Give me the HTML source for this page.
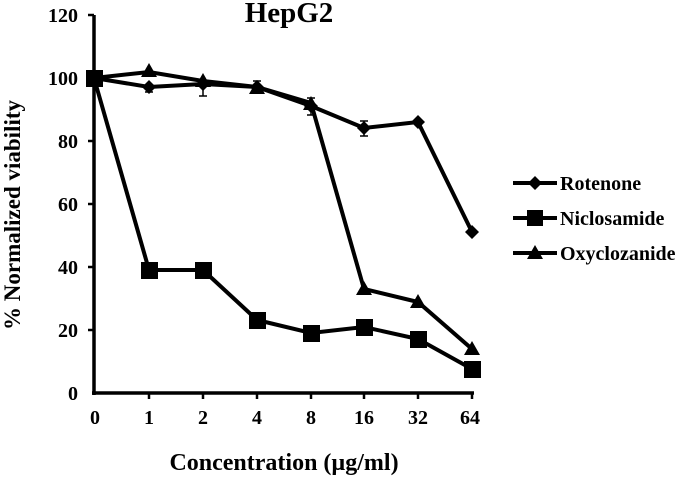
<!DOCTYPE html><html><head><style>body{margin:0;background:#fff}svg{display:block}text{font-family:"Liberation Serif",serif;font-weight:bold;fill:#000}</style></head><body>
<svg width="680" height="477" viewBox="0 0 680 477">
<g stroke="#000" stroke-width="3.5" fill="none">
<line x1="94" y1="15" x2="94" y2="395"/><line x1="92" y1="393" x2="474" y2="393"/>
<g stroke-width="2.5">
<line x1="88" y1="15" x2="94" y2="15"/><line x1="88" y1="78" x2="94" y2="78"/><line x1="88" y1="141" x2="94" y2="141"/><line x1="88" y1="204" x2="94" y2="204"/><line x1="88" y1="267" x2="94" y2="267"/><line x1="88" y1="330" x2="94" y2="330"/>
<line x1="149" y1="393" x2="149" y2="399"/><line x1="203" y1="393" x2="203" y2="399"/><line x1="257" y1="393" x2="257" y2="399"/><line x1="311" y1="393" x2="311" y2="399"/><line x1="364" y1="393" x2="364" y2="399"/><line x1="418" y1="393" x2="418" y2="399"/><line x1="472" y1="393" x2="472" y2="399"/>
</g>
<g stroke-width="1.5"><line x1="149" y1="83" x2="149" y2="92"/><line x1="203" y1="82" x2="203" y2="96"/><line x1="257" y1="81" x2="257" y2="90"/><line x1="311" y1="98" x2="311" y2="115"/><line x1="364" y1="121" x2="364" y2="136"/>
<line x1="145" y1="92" x2="153" y2="92"/><line x1="199" y1="82" x2="207" y2="82"/><line x1="199" y1="96" x2="207" y2="96"/><line x1="253" y1="81" x2="261" y2="81"/><line x1="307" y1="98" x2="315" y2="98"/><line x1="307" y1="115" x2="315" y2="115"/><line x1="360" y1="121" x2="368" y2="121"/><line x1="360" y1="136" x2="368" y2="136"/></g>
<polyline stroke-width="4" points="94,78 149,87 203,84 257,87 311,106 364,128 418,122 472,232"/>
<polyline stroke-width="4" points="94,78 149,270 203,270 257,320 311,333 364,327 418,339 472,369"/>
<polyline stroke-width="4" points="94,78 149,72 203,81 257,87 311,103 364,289 418,302 472,349"/>
<line x1="513" y1="183" x2="557" y2="183" stroke-width="4"/><line x1="513" y1="218" x2="557" y2="218" stroke-width="4"/><line x1="513" y1="253" x2="557" y2="253" stroke-width="4"/>
</g>
<g fill="#000">
<path d="M149,80l7,7-7,7-7-7z M203,77l7,7-7,7-7-7z M257,80l7,7-7,7-7-7z M311,99l7,7-7,7-7-7z M364,121l7,7-7,7-7-7z M418,115l7,7-7,7-7-7z M472,225l7,7-7,7-7-7z M535,176l7,7-7,7-7-7z"/>
<path d="M86,70h17v17h-17z M141,262h17v17h-17z M195,262h17v17h-17z M249,312h17v17h-17z M303,325h17v17h-17z M356,319h17v17h-17z M410,331h17v17h-17z M464,361h17v17h-17z M527,210h16v16h-16z"/>
<path d="M149,63l8,14h-16z M203,73l8,14h-16z M257,80l8,14h-16z M311,96l8,14h-16z M364,281l8,14h-16z M418,294l8,14h-16z M472,341l8,14h-16z M535,245l8,14h-16z"/>
</g>
<text x="289" y="22" font-size="29" text-anchor="middle">HepG2</text>
<g font-size="20" text-anchor="end"><text x="78" y="22">120</text><text x="78" y="85">100</text><text x="78" y="148">80</text><text x="78" y="211">60</text><text x="78" y="274">40</text><text x="78" y="337">20</text><text x="78" y="400">0</text></g>
<g font-size="20" text-anchor="middle"><text x="95" y="424">0</text><text x="149" y="424">1</text><text x="203" y="424">2</text><text x="257" y="424">4</text><text x="311" y="424">8</text><text x="364" y="424">16</text><text x="418" y="424">32</text><text x="470" y="424">64</text></g>
<text x="284" y="470" font-size="24" text-anchor="middle">Concentration (µg/ml)</text>
<text transform="translate(20,215) rotate(-90)" font-size="23" text-anchor="middle">% Normalized viability</text>
<g font-size="20"><text x="560" y="190">Rotenone</text><text x="560" y="225">Niclosamide</text><text x="560" y="260">Oxyclozanide</text></g>
</svg></body></html>
